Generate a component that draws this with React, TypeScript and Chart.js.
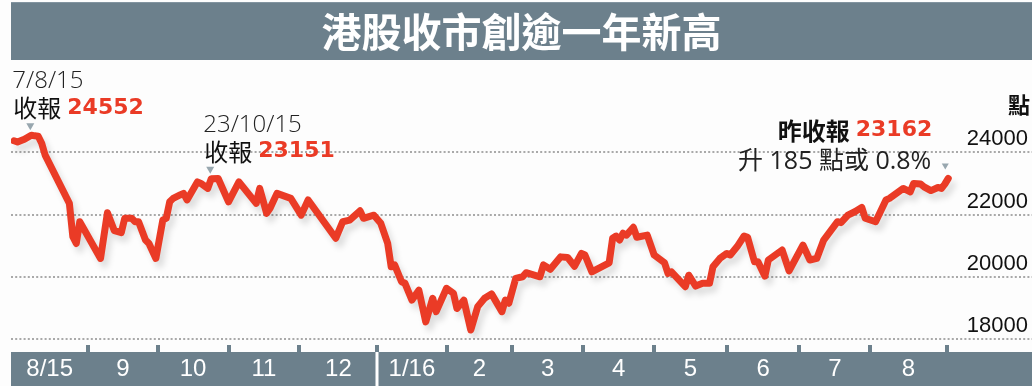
import { useEffect, useRef } from 'react';
import { Chart, registerables } from 'chart.js';

Chart.register(...registerables);

// ---- data ----
const title = '港股收市創逾一年新高';
const unitLabel = '點';
// trading-day index since start of chart (early Aug 2015)
const tradingDays = [
  0, 1, 3, 5, 6, 7, 8, 9, 16, 17, 18, 19, 25, 27, 29, 31, 32, 34, 35, 36, 38, 39, 41, 43, 44, 45, 46, 48, 49, 50,
  53, 54, 56, 57, 59, 62, 65, 70, 71, 73, 74, 76, 80, 83, 85, 93, 95, 97, 100, 101, 104, 106, 108, 109, 110, 112,
  113, 115, 117, 119, 121, 122, 125, 127, 128, 130, 132, 134, 136, 138, 141, 142, 143, 145, 147, 148, 152, 153,
  155, 158, 160, 162, 164, 165, 167, 172, 173, 174, 175, 176, 177, 179, 180, 183, 185, 188, 189, 190, 194, 195,
  197, 199, 201, 202, 204, 206, 207, 209, 211, 212, 214, 215, 217, 218, 222, 224, 228, 230, 232, 234, 238, 239,
  241, 243, 245, 246, 249, 252, 253, 257, 259, 260, 262, 263, 265, 267, 268, 269, 270,
];
const closes = [
  24370, 24330, 24420, 24552, 24530, 24520, 24290, 23910, 22360, 21290, 21070, 21770, 20590, 22060, 21480, 21420,
  21880, 21880, 21770, 21770, 21180, 21070, 20590, 21820, 21880, 22410, 22520, 22630, 22680, 22470,
  23050, 23000, 22840, 23151, 23160, 22410, 23050, 22360, 22840, 22040, 22200, 22680, 22520, 21980, 22470, 21240,
  21770, 21820, 22120, 21880, 21980, 21720, 21070, 20320, 20380, 19840,
  19790, 19250, 19570, 18550, 19310, 18880, 19630, 19470, 18980, 19250, 18290, 19040, 19310, 19450, 18880, 19250,
  19150, 19950, 20000, 20130, 20000, 20380,
  20240, 20640, 20620, 20340, 20750, 20700, 20160, 20450, 21240, 21310, 21180, 21400, 21340, 21590, 21270, 21340,
  20700, 20450, 20110, 20160, 19680, 20050,
  19700, 19790, 19790, 20320, 20590, 20750, 20700, 20970, 21310, 21270, 20480, 20480, 20020, 20540, 20860, 20190,
  21020, 20540, 20590, 21180, 21770, 21740,
  21980, 22090, 22230, 21880, 21770, 22470, 22520, 22840, 22730, 23000, 22980, 22890, 22770, 22870, 22840, 22977,
  23162,
];
// month boundaries (in trading-day index) and the month labels that sit between them
const monthStarts = [21.5, 41.5, 62, 82.5, 105, 125, 144, 164.5, 185, 206, 227, 247.5, 269.5];
const monthLabels = ['8/15', '9', '10', '11', '12', '1/16', '2', '3', '4', '5', '6', '7', '8'];
const yTicks = [18000, 20000, 22000, 24000];
const highlightDays = [5, 57];
const highlightDates = ['7/8/15', '23/10/15'];
const highlightCloses = [24552, 23151];
const lastDay = 270;
const lastClose = 23162;
const lastChange = 185;
const lastChangePct = 0.8;

// ---- styles ----
const BAR = '#6c808c';
const RED = '#ea3b26';
const MARK = '#98a7af';

function txt(ctx: CanvasRenderingContext2D, s: string, x: number, y: number, font: string, color: string, align: CanvasTextAlign = 'left') {
  ctx.font = font;
  ctx.fillStyle = color;
  ctx.textAlign = align;
  ctx.textBaseline = 'middle';
  ctx.fillText(s, x, y);
}

function tri(ctx: CanvasRenderingContext2D, cx: number, bottom: number, w: number, h: number) {
  ctx.beginPath();
  ctx.moveTo(cx - w / 2, bottom - h);
  ctx.lineTo(cx + w / 2, bottom - h);
  ctx.lineTo(cx, bottom);
  ctx.closePath();
  ctx.fillStyle = MARK;
  ctx.fill();
}

const decor = {
  id: 'decor',
  beforeDraw(chart: any) {
    const { ctx, width, height, chartArea, scales } = chart;
    const ys = scales.y;
    const xs = scales.x;
    ctx.save();
    ctx.fillStyle = '#fdfdfd';
    ctx.fillRect(0, 0, width, height);

    // title bar
    const barL = chartArea.left;
    ctx.fillStyle = BAR;
    ctx.fillRect(barL, 2, width - barL, 58);
    ctx.fillStyle = '#8294a0';
    ctx.fillRect(barL, 2, width - barL, 1);
    txt(ctx, title, (barL + width) / 2, 32, 'bold 40px "Noto Sans CJK TC"', '#ffffff', 'center');

    // dotted grid lines
    ctx.strokeStyle = '#a9a9a9';
    ctx.lineWidth = 2;
    ctx.setLineDash([2, 2.2]);
    for (const v of yTicks) {
      const py = Math.round(ys.getPixelForValue(v));
      ctx.beginPath();
      ctx.moveTo(chartArea.left, py);
      ctx.lineTo(width, py);
      ctx.stroke();
    }
    ctx.setLineDash([]);

    // bottom month bar
    const bTop = 352;
    ctx.fillStyle = BAR;
    ctx.fillRect(barL, bTop, width - barL, height - bTop);
    const px = monthStarts.map((m) => xs.getPixelForValue(m));
    for (const p of px) {
      ctx.fillStyle = BAR;
      ctx.fillRect(Math.round(p) - 2, 345, 4, bTop - 345);
    }
    const yearIdx = monthLabels.indexOf('1/16') - 1;
    ctx.fillStyle = '#ffffff';
    ctx.fillRect(Math.round(px[yearIdx]) - 1.5, bTop, 3, height - bTop);
    monthLabels.forEach((lab, i) => {
      const a = i === 0 ? chartArea.left : px[i - 1];
      const b = px[i];
      txt(ctx, lab, (a + b) / 2, 369, '24px "Liberation Sans"', '#ffffff', 'center');
    });
    ctx.restore();
  },
  beforeDatasetDraw(chart: any) {
    const ctx = chart.ctx;
    ctx.save();
    ctx.shadowColor = 'rgba(0,0,0,0.13)';
    ctx.shadowBlur = 6;
    ctx.shadowOffsetX = 4;
    ctx.shadowOffsetY = 6;
  },
  afterDatasetDraw(chart: any) {
    chart.ctx.restore();
  },
  afterDraw(chart: any) {
    const { ctx, chartArea, scales } = chart;
    const xs = scales.x;
    const ys = scales.y;
    ctx.save();
    const LIGHT = '300 24px "Open Sans", "Noto Sans CJK TC"';
    const CJK = '24px "Noto Sans CJK TC"';
    const CJKB = 'bold 24px "Noto Sans CJK TC"';
    const NUM = 'bold 22px "DejaVu Sans"';

    highlightDays.forEach((d, i) => {
      const px = xs.getPixelForValue(d);
      const py = ys.getPixelForValue(highlightCloses[i]);
      tri(ctx, px - 1, py - 5, 8, 7);
      const left = i === 0 ? px - 19 : px - 8;
      txt(ctx, highlightDates[i], left, py - 54, LIGHT, '#222222');
      txt(ctx, '收報', left + 1, py - 27, CJK, '#111111');
      ctx.font = CJK;
      const w = ctx.measureText('收報').width;
      txt(ctx, String(highlightCloses[i]), left + 1 + w + 6, py - 27, NUM, RED);
    });

    const lx = xs.getPixelForValue(lastDay);
    const ly = ys.getPixelForValue(lastClose);
    tri(ctx, lx - 3, ly - 9, 7, 6);
    const right = lx - 16;
    txt(ctx, String(lastClose), right, ly - 48, NUM, RED, 'right');
    ctx.font = NUM;
    const w2 = ctx.measureText(String(lastClose)).width;
    txt(ctx, '昨收報', right - w2 - 6, ly - 48, CJKB, '#111111', 'right');
    txt(ctx, `升 ${lastChange} 點或 ${lastChangePct}%`, right - 1, ly - 17, '25px "Open Sans", "Noto Sans CJK TC"', '#222222', 'right');

    txt(ctx, unitLabel, chartArea.right - 2, 105, 'bold 22px "Noto Sans CJK TC"', '#111111', 'right');
    ctx.restore();
  },
};

export default function App() {
  const ref = useRef<HTMLCanvasElement>(null);
  useEffect(() => {
    document.body.style.margin = '0';
    const canvas = ref.current!;
    const chart = new Chart(canvas, {
      type: 'line',
      data: {
        datasets: [
          {
            data: tradingDays.map((d, i) => ({ x: d, y: closes[i] })),
            borderColor: RED,
            borderWidth: 7,
            borderJoinStyle: 'round',
            borderCapStyle: 'round',
            pointRadius: 0,
            tension: 0,
            fill: false,
          },
        ],
      },
      options: {
        animation: false,
        responsive: false,
        events: [],
        layout: { padding: { top: 59, bottom: 47, left: 11, right: 0 } },
        plugins: { legend: { display: false }, tooltip: { enabled: false } },
        scales: {
          x: { type: 'linear', min: -0.87, max: 294.2, display: false },
          y: {
            position: 'right',
            min: 18000,
            max: 27000,
            afterBuildTicks: (s: any) => {
              s.ticks = yTicks.map((v) => ({ value: v }));
            },
            afterFit: (s: any) => {
              s.width = 0;
            },
            grid: { display: false, drawTicks: false, tickLength: 0 },
            border: { display: false },
            ticks: {
              mirror: true,
              padding: -4,
              labelOffset: -13,
              color: '#111111',
              font: { size: 22, family: '"Liberation Sans"' },
              callback: (v: any) => String(v),
            },
          },
        },
      },
      plugins: [decor],
    } as any);
    return () => chart.destroy();
  }, []);
  return <canvas ref={ref} width={1032} height={386} style={{ display: 'block' }} />;
}
